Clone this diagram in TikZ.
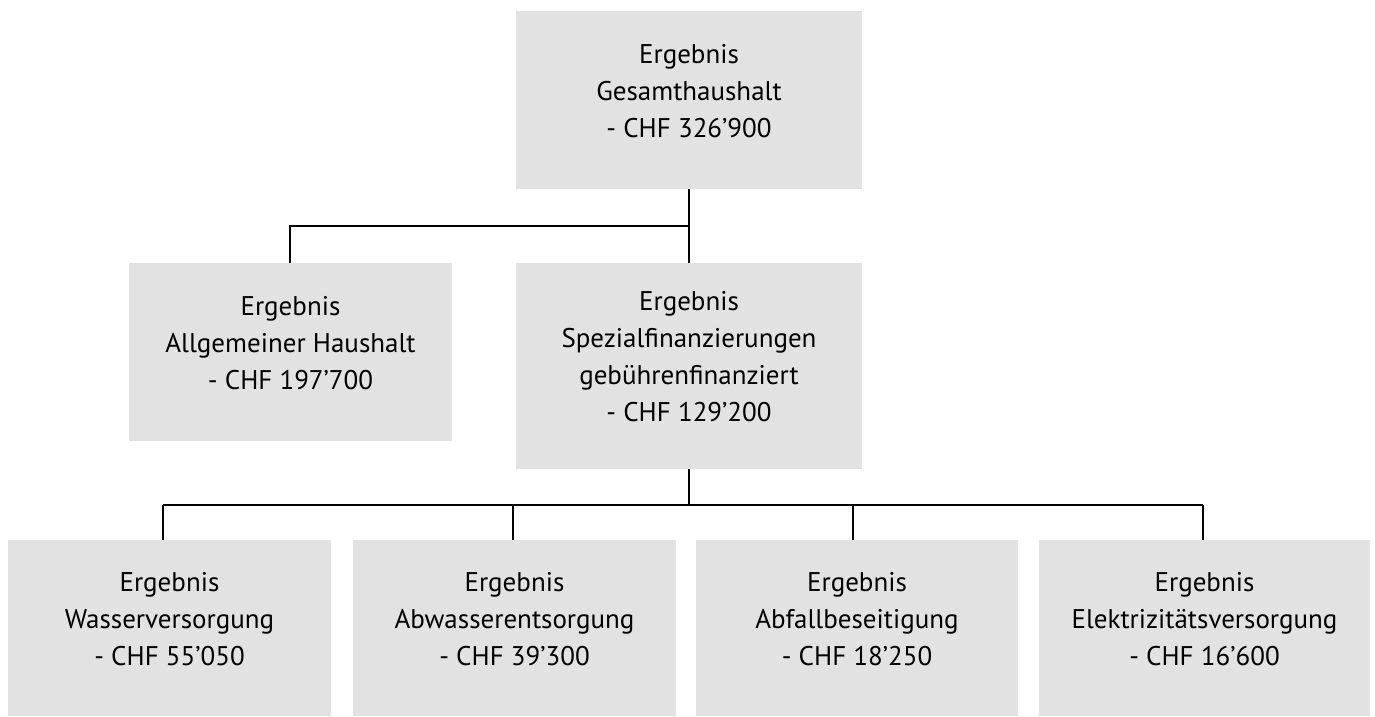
\documentclass[tikz,border=0pt]{standalone}
\usepackage{fontspec}
\setmainfont{PT Sans}
\definecolor{boxgray}{HTML}{E2E2E2}
\newcommand{\topstrut}{\rule{0pt}{20pt}}
\newcommand{\botstrut}{\rule[-20pt]{0pt}{20pt}}
\begin{document}
\begin{tikzpicture}[x=1pt,y=-1pt,
  box/.style={fill=boxgray,draw=none,inner sep=0pt,align=center,
    font=\fontsize{27}{37}\selectfont,text=black},
  conn/.style={draw=black,line width=2pt}]
\useasboundingbox (0,0) rectangle (1375,716);
\node[box,minimum width=346pt,minimum height=178pt] (top) at (689,100) {\topstrut Ergebnis\\Gesamthaushalt\\- CHF 326’900\botstrut};
\node[box,minimum width=323pt,minimum height=178pt] (left) at (290.5,352) {\topstrut Ergebnis\\Allgemeiner Haushalt\\- CHF 197’700\botstrut};
\node[box,minimum width=346pt,minimum height=206pt] (mid) at (689,366) {\topstrut Ergebnis\\Spezialfinanzierungen\\gebührenfinanziert\\- CHF 129’200\botstrut};
\node[box,minimum width=323pt,minimum height=176pt] (b1) at (169.5,628) {\topstrut Ergebnis\\Wasserversorgung\\- CHF 55’050\botstrut};
\node[box,minimum width=323pt,minimum height=176pt] (b2) at (514.5,628) {\topstrut Ergebnis\\Abwasserentsorgung\\- CHF 39’300\botstrut};
\node[box,minimum width=322pt,minimum height=176pt] (b3) at (857,628) {\topstrut Ergebnis\\Abfallbeseitigung\\- CHF 18’250\botstrut};
\node[box,minimum width=331pt,minimum height=176pt] (b4) at (1204.5,628) {\topstrut Ergebnis\\Elektrizitätsversorgung\\- CHF 16’600\botstrut};
% upper connectors
\coordinate (j1) at (689,226);
\coordinate (l1) at (290,226);
\draw[conn] (top.south) -- (mid.north);
\draw[conn] (j1) -- (l1) -- (l1 |- left.north);
% lower connectors
\coordinate (j2) at (689,505);
\coordinate (c1) at (163,505);
\coordinate (c2) at (513,505);
\coordinate (c3) at (853,505);
\coordinate (c4) at (1203,505);
\draw[conn] (mid.south) -- (j2);
\draw[conn] (c1) -- (c4);
\draw[conn] (c1) -- (c1 |- b1.north);
\draw[conn] (c2) -- (c2 |- b2.north);
\draw[conn] (c3) -- (c3 |- b3.north);
\draw[conn] (c4) -- (c4 |- b4.north);
\end{tikzpicture}
\end{document}
